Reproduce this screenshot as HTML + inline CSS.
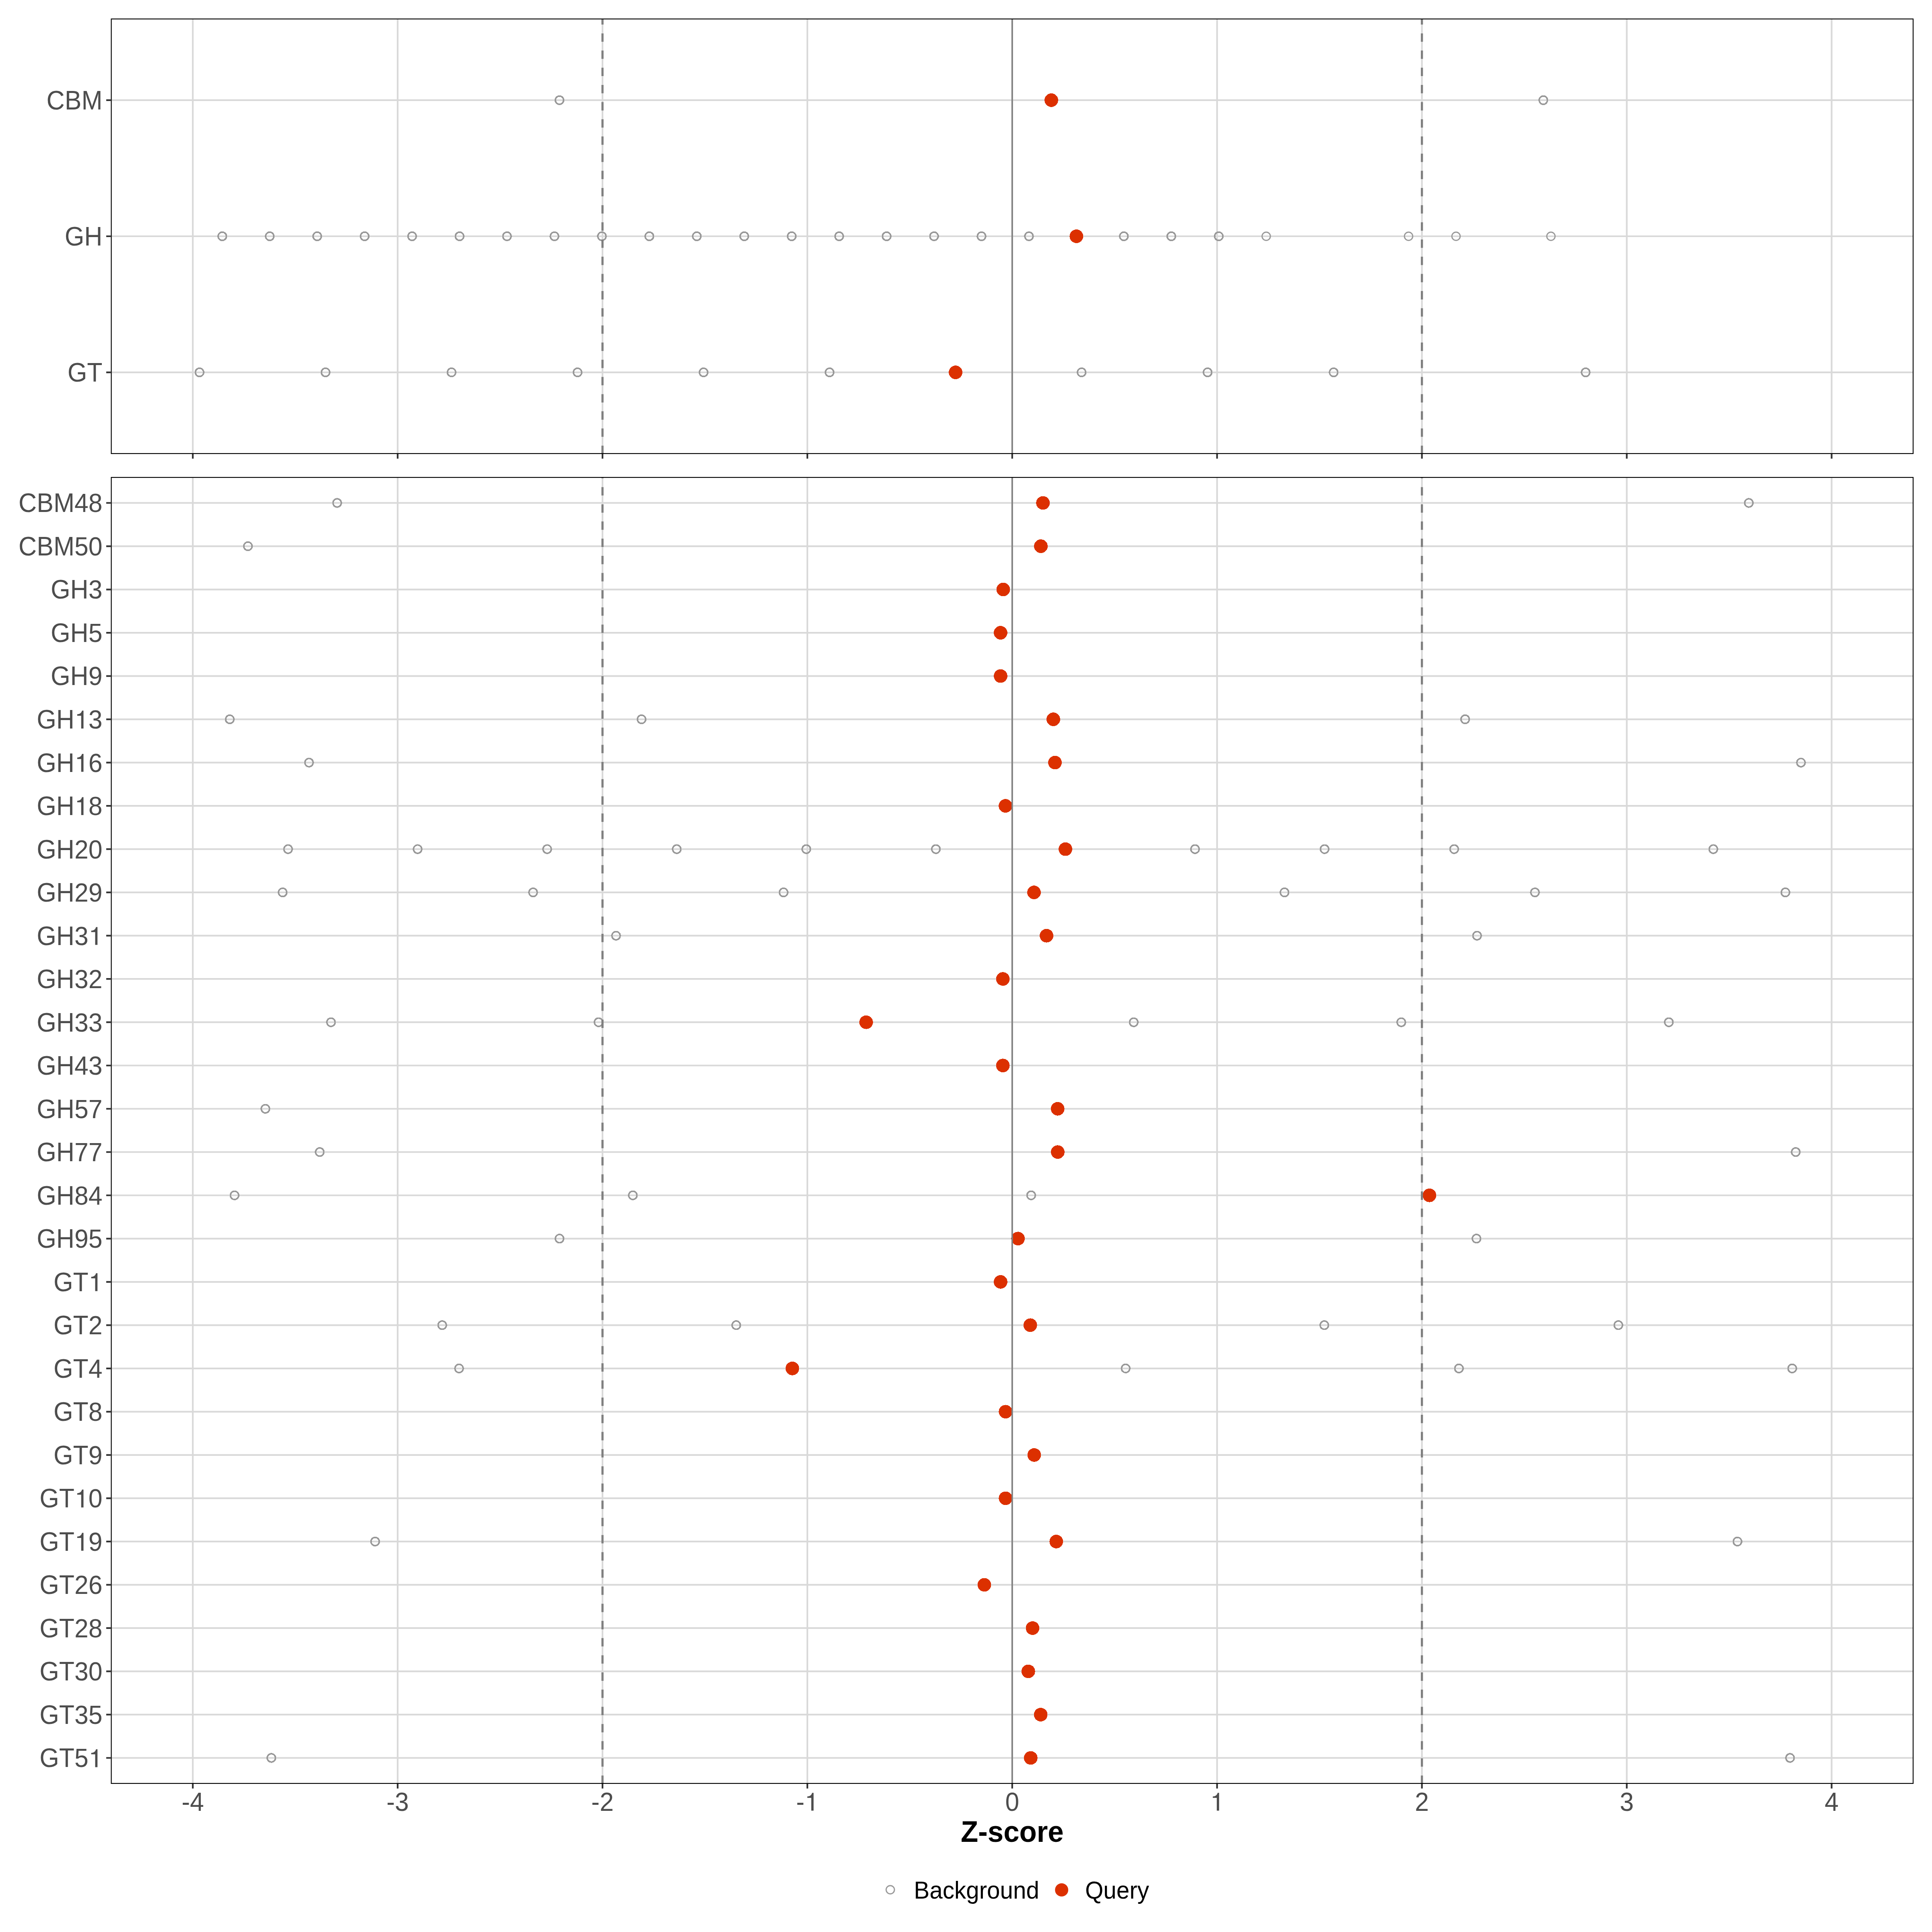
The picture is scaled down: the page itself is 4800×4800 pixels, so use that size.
<!DOCTYPE html><html><head><meta charset="utf-8"><style>html,body{margin:0;padding:0;background:#fff;}svg{display:block;}circle{shape-rendering:crispEdges;}text{font-family:"Liberation Sans",sans-serif;}</style></head><body>
<svg width="4800" height="4800" viewBox="0 0 4800 4800">
<rect x="0" y="0" width="4800" height="4800" fill="#FFFFFF"/>
<defs>
<clipPath id="cp1"><rect x="275.4" y="46" width="4478.8" height="1082"/></clipPath>
<clipPath id="cp2"><rect x="275.4" y="1185" width="4478.8" height="3247"/></clipPath>
</defs>
<g clip-path="url(#cp1)">
<path d="M275.4 248.87H4754.2M275.4 587H4754.2M275.4 925.12H4754.2M479 46V1128M987.95 46V1128M1496.9 46V1128M2005.85 46V1128M2514.8 46V1128M3023.75 46V1128M3532.7 46V1128M4041.65 46V1128M4550.6 46V1128" stroke="#D9D9D9" stroke-width="4.2" fill="none"/>
<circle cx="1390" cy="248.87" r="10.25" fill="none" stroke="#999999" stroke-width="3.8"/>
<circle cx="3834.3" cy="248.87" r="10.25" fill="none" stroke="#999999" stroke-width="3.8"/>
<circle cx="552.3" cy="587" r="10.25" fill="none" stroke="#999999" stroke-width="3.8"/>
<circle cx="670.19" cy="587" r="10.25" fill="none" stroke="#999999" stroke-width="3.8"/>
<circle cx="788.08" cy="587" r="10.25" fill="none" stroke="#999999" stroke-width="3.8"/>
<circle cx="905.97" cy="587" r="10.25" fill="none" stroke="#999999" stroke-width="3.8"/>
<circle cx="1023.86" cy="587" r="10.25" fill="none" stroke="#999999" stroke-width="3.8"/>
<circle cx="1141.75" cy="587" r="10.25" fill="none" stroke="#999999" stroke-width="3.8"/>
<circle cx="1259.64" cy="587" r="10.25" fill="none" stroke="#999999" stroke-width="3.8"/>
<circle cx="1377.53" cy="587" r="10.25" fill="none" stroke="#999999" stroke-width="3.8"/>
<circle cx="1495.42" cy="587" r="10.25" fill="none" stroke="#999999" stroke-width="3.8"/>
<circle cx="1613.31" cy="587" r="10.25" fill="none" stroke="#999999" stroke-width="3.8"/>
<circle cx="1731.2" cy="587" r="10.25" fill="none" stroke="#999999" stroke-width="3.8"/>
<circle cx="1849.09" cy="587" r="10.25" fill="none" stroke="#999999" stroke-width="3.8"/>
<circle cx="1966.98" cy="587" r="10.25" fill="none" stroke="#999999" stroke-width="3.8"/>
<circle cx="2084.87" cy="587" r="10.25" fill="none" stroke="#999999" stroke-width="3.8"/>
<circle cx="2202.76" cy="587" r="10.25" fill="none" stroke="#999999" stroke-width="3.8"/>
<circle cx="2320.65" cy="587" r="10.25" fill="none" stroke="#999999" stroke-width="3.8"/>
<circle cx="2438.54" cy="587" r="10.25" fill="none" stroke="#999999" stroke-width="3.8"/>
<circle cx="2556.43" cy="587" r="10.25" fill="none" stroke="#999999" stroke-width="3.8"/>
<circle cx="2792.21" cy="587" r="10.25" fill="none" stroke="#999999" stroke-width="3.8"/>
<circle cx="2910.1" cy="587" r="10.25" fill="none" stroke="#999999" stroke-width="3.8"/>
<circle cx="3027.99" cy="587" r="10.25" fill="none" stroke="#999999" stroke-width="3.8"/>
<circle style="shape-rendering:auto" cx="3145.88" cy="587" r="10.3" fill="none" stroke="#999999" stroke-width="2.95"/>
<circle style="shape-rendering:auto" cx="3499.55" cy="587" r="10.3" fill="none" stroke="#999999" stroke-width="2.95"/>
<circle style="shape-rendering:auto" cx="3617.44" cy="587" r="10.3" fill="none" stroke="#999999" stroke-width="2.95"/>
<circle style="shape-rendering:auto" cx="3853.22" cy="587" r="10.3" fill="none" stroke="#999999" stroke-width="2.95"/>
<circle cx="495.7" cy="925.12" r="10.25" fill="none" stroke="#999999" stroke-width="3.8"/>
<circle cx="808.77" cy="925.12" r="10.25" fill="none" stroke="#999999" stroke-width="3.8"/>
<circle cx="1121.84" cy="925.12" r="10.25" fill="none" stroke="#999999" stroke-width="3.8"/>
<circle cx="1434.91" cy="925.12" r="10.25" fill="none" stroke="#999999" stroke-width="3.8"/>
<circle cx="1747.98" cy="925.12" r="10.25" fill="none" stroke="#999999" stroke-width="3.8"/>
<circle cx="2061.05" cy="925.12" r="10.25" fill="none" stroke="#999999" stroke-width="3.8"/>
<circle cx="2687.19" cy="925.12" r="10.25" fill="none" stroke="#999999" stroke-width="3.8"/>
<circle cx="3000.26" cy="925.12" r="10.25" fill="none" stroke="#999999" stroke-width="3.8"/>
<circle cx="3313.33" cy="925.12" r="10.25" fill="none" stroke="#999999" stroke-width="3.8"/>
<circle cx="3939.47" cy="925.12" r="10.25" fill="none" stroke="#999999" stroke-width="3.8"/>
<circle cx="2612" cy="248.87" r="16.9" fill="#DC3000"/>
<circle cx="2674.32" cy="587" r="16.9" fill="#DC3000"/>
<circle cx="2374.12" cy="925.12" r="16.9" fill="#DC3000"/>
<path d="M1496.9 1128V46" stroke="#7F7F7F" stroke-width="5.33" stroke-dasharray="20.8 21.88" fill="none"/>
<path d="M3532.7 1128V46" stroke="#7F7F7F" stroke-width="5.33" stroke-dasharray="20.8 21.88" fill="none"/>
<path d="M2514.8 1128V46" stroke="#7F7F7F" stroke-width="3.7" fill="none"/>
<rect x="275.4" y="46" width="4478.8" height="1082" fill="none" stroke="#000" stroke-width="4.44"/>
</g>
<path d="M263.94 248.87H275.4M263.94 587H275.4M263.94 925.12H275.4M479 1128V1139.46M987.95 1128V1139.46M1496.9 1128V1139.46M2005.85 1128V1139.46M2514.8 1128V1139.46M3023.75 1128V1139.46M3532.7 1128V1139.46M4041.65 1128V1139.46M4550.6 1128V1139.46" stroke="#333333" stroke-width="4.2" fill="none"/>
<text transform="translate(115.62 271.77) scale(1 1.06)" font-size="62.5" fill="#4D4D4D">CBM</text>
<text transform="translate(160.75 609.9) scale(1 1.06)" font-size="62.5" fill="#4D4D4D">GH</text>
<text transform="translate(167.69 948.02) scale(1 1.06)" font-size="62.5" fill="#4D4D4D">GT</text>
<g clip-path="url(#cp2)">
<path d="M275.4 1249.51H4754.2M275.4 1357.03H4754.2M275.4 1464.54H4754.2M275.4 1572.06H4754.2M275.4 1679.58H4754.2M275.4 1787.09H4754.2M275.4 1894.61H4754.2M275.4 2002.13H4754.2M275.4 2109.64H4754.2M275.4 2217.16H4754.2M275.4 2324.68H4754.2M275.4 2432.19H4754.2M275.4 2539.71H4754.2M275.4 2647.23H4754.2M275.4 2754.74H4754.2M275.4 2862.26H4754.2M275.4 2969.77H4754.2M275.4 3077.29H4754.2M275.4 3184.81H4754.2M275.4 3292.32H4754.2M275.4 3399.84H4754.2M275.4 3507.36H4754.2M275.4 3614.87H4754.2M275.4 3722.39H4754.2M275.4 3829.91H4754.2M275.4 3937.42H4754.2M275.4 4044.94H4754.2M275.4 4152.46H4754.2M275.4 4259.97H4754.2M275.4 4367.49H4754.2M479 1185V4432M987.95 1185V4432M1496.9 1185V4432M2005.85 1185V4432M2514.8 1185V4432M3023.75 1185V4432M3532.7 1185V4432M4041.65 1185V4432M4550.6 1185V4432" stroke="#D9D9D9" stroke-width="4.2" fill="none"/>
<circle cx="837.6" cy="1249.51" r="10.25" fill="none" stroke="#999999" stroke-width="3.8"/>
<circle cx="4344.8" cy="1249.51" r="10.25" fill="none" stroke="#999999" stroke-width="3.8"/>
<circle cx="616" cy="1357.03" r="10.25" fill="none" stroke="#999999" stroke-width="3.8"/>
<circle cx="570.8" cy="1787.09" r="10.25" fill="none" stroke="#999999" stroke-width="3.8"/>
<circle cx="1593.9" cy="1787.09" r="10.25" fill="none" stroke="#999999" stroke-width="3.8"/>
<circle cx="3640.1" cy="1787.09" r="10.25" fill="none" stroke="#999999" stroke-width="3.8"/>
<circle cx="767.7" cy="1894.61" r="10.25" fill="none" stroke="#999999" stroke-width="3.8"/>
<circle cx="4474.5" cy="1894.61" r="10.25" fill="none" stroke="#999999" stroke-width="3.8"/>
<circle cx="715.64" cy="2109.64" r="10.25" fill="none" stroke="#999999" stroke-width="3.8"/>
<circle cx="1037.55" cy="2109.64" r="10.25" fill="none" stroke="#999999" stroke-width="3.8"/>
<circle cx="1359.46" cy="2109.64" r="10.25" fill="none" stroke="#999999" stroke-width="3.8"/>
<circle cx="1681.37" cy="2109.64" r="10.25" fill="none" stroke="#999999" stroke-width="3.8"/>
<circle cx="2003.28" cy="2109.64" r="10.25" fill="none" stroke="#999999" stroke-width="3.8"/>
<circle cx="2325.19" cy="2109.64" r="10.25" fill="none" stroke="#999999" stroke-width="3.8"/>
<circle cx="2969.01" cy="2109.64" r="10.25" fill="none" stroke="#999999" stroke-width="3.8"/>
<circle cx="3290.92" cy="2109.64" r="10.25" fill="none" stroke="#999999" stroke-width="3.8"/>
<circle cx="3612.83" cy="2109.64" r="10.25" fill="none" stroke="#999999" stroke-width="3.8"/>
<circle cx="4256.65" cy="2109.64" r="10.25" fill="none" stroke="#999999" stroke-width="3.8"/>
<circle cx="702.21" cy="2217.16" r="10.25" fill="none" stroke="#999999" stroke-width="3.8"/>
<circle cx="1324.47" cy="2217.16" r="10.25" fill="none" stroke="#999999" stroke-width="3.8"/>
<circle cx="1946.74" cy="2217.16" r="10.25" fill="none" stroke="#999999" stroke-width="3.8"/>
<circle cx="3191.26" cy="2217.16" r="10.25" fill="none" stroke="#999999" stroke-width="3.8"/>
<circle cx="3813.53" cy="2217.16" r="10.25" fill="none" stroke="#999999" stroke-width="3.8"/>
<circle cx="4435.79" cy="2217.16" r="10.25" fill="none" stroke="#999999" stroke-width="3.8"/>
<circle cx="1530.55" cy="2324.68" r="10.25" fill="none" stroke="#999999" stroke-width="3.8"/>
<circle cx="3669.65" cy="2324.68" r="10.25" fill="none" stroke="#999999" stroke-width="3.8"/>
<circle cx="822.37" cy="2539.71" r="10.25" fill="none" stroke="#999999" stroke-width="3.8"/>
<circle cx="1487.14" cy="2539.71" r="10.25" fill="none" stroke="#999999" stroke-width="3.8"/>
<circle cx="2816.66" cy="2539.71" r="10.25" fill="none" stroke="#999999" stroke-width="3.8"/>
<circle cx="3481.43" cy="2539.71" r="10.25" fill="none" stroke="#999999" stroke-width="3.8"/>
<circle cx="4146.19" cy="2539.71" r="10.25" fill="none" stroke="#999999" stroke-width="3.8"/>
<circle cx="659.4" cy="2754.74" r="10.25" fill="none" stroke="#999999" stroke-width="3.8"/>
<circle cx="794.35" cy="2862.26" r="10.25" fill="none" stroke="#999999" stroke-width="3.8"/>
<circle cx="4461.45" cy="2862.26" r="10.25" fill="none" stroke="#999999" stroke-width="3.8"/>
<circle cx="582.71" cy="2969.77" r="10.25" fill="none" stroke="#999999" stroke-width="3.8"/>
<circle cx="1572.29" cy="2969.77" r="10.25" fill="none" stroke="#999999" stroke-width="3.8"/>
<circle cx="2561.87" cy="2969.77" r="10.25" fill="none" stroke="#999999" stroke-width="3.8"/>
<circle cx="1390.1" cy="3077.29" r="10.25" fill="none" stroke="#999999" stroke-width="3.8"/>
<circle cx="3668.3" cy="3077.29" r="10.25" fill="none" stroke="#999999" stroke-width="3.8"/>
<circle cx="1098.66" cy="3292.32" r="10.25" fill="none" stroke="#999999" stroke-width="3.8"/>
<circle cx="1829.18" cy="3292.32" r="10.25" fill="none" stroke="#999999" stroke-width="3.8"/>
<circle cx="3290.22" cy="3292.32" r="10.25" fill="none" stroke="#999999" stroke-width="3.8"/>
<circle cx="4020.74" cy="3292.32" r="10.25" fill="none" stroke="#999999" stroke-width="3.8"/>
<circle cx="1140.57" cy="3399.84" r="10.25" fill="none" stroke="#999999" stroke-width="3.8"/>
<circle cx="2796.63" cy="3399.84" r="10.25" fill="none" stroke="#999999" stroke-width="3.8"/>
<circle cx="3624.67" cy="3399.84" r="10.25" fill="none" stroke="#999999" stroke-width="3.8"/>
<circle cx="4452.7" cy="3399.84" r="10.25" fill="none" stroke="#999999" stroke-width="3.8"/>
<circle cx="931.95" cy="3829.91" r="10.25" fill="none" stroke="#999999" stroke-width="3.8"/>
<circle cx="4316.65" cy="3829.91" r="10.25" fill="none" stroke="#999999" stroke-width="3.8"/>
<circle cx="674.25" cy="4367.49" r="10.25" fill="none" stroke="#999999" stroke-width="3.8"/>
<circle cx="4447.35" cy="4367.49" r="10.25" fill="none" stroke="#999999" stroke-width="3.8"/>
<circle cx="2591.2" cy="1249.51" r="16.9" fill="#DC3000"/>
<circle cx="2586" cy="1357.03" r="16.9" fill="#DC3000"/>
<circle cx="2492.5" cy="1464.54" r="16.9" fill="#DC3000"/>
<circle cx="2485.9" cy="1572.06" r="16.9" fill="#DC3000"/>
<circle cx="2485.9" cy="1679.58" r="16.9" fill="#DC3000"/>
<circle cx="2617" cy="1787.09" r="16.9" fill="#DC3000"/>
<circle cx="2621.1" cy="1894.61" r="16.9" fill="#DC3000"/>
<circle cx="2498.1" cy="2002.13" r="16.9" fill="#DC3000"/>
<circle cx="2647.1" cy="2109.64" r="16.9" fill="#DC3000"/>
<circle cx="2569" cy="2217.16" r="16.9" fill="#DC3000"/>
<circle cx="2600.1" cy="2324.68" r="16.9" fill="#DC3000"/>
<circle cx="2491.65" cy="2432.19" r="16.9" fill="#DC3000"/>
<circle cx="2151.9" cy="2539.71" r="16.9" fill="#DC3000"/>
<circle cx="2491.65" cy="2647.23" r="16.9" fill="#DC3000"/>
<circle cx="2627.7" cy="2754.74" r="16.9" fill="#DC3000"/>
<circle cx="2627.9" cy="2862.26" r="16.9" fill="#DC3000"/>
<circle cx="3551.45" cy="2969.77" r="16.9" fill="#DC3000"/>
<circle cx="2529.2" cy="3077.29" r="16.9" fill="#DC3000"/>
<circle cx="2485.9" cy="3184.81" r="16.9" fill="#DC3000"/>
<circle cx="2559.7" cy="3292.32" r="16.9" fill="#DC3000"/>
<circle cx="1968.6" cy="3399.84" r="16.9" fill="#DC3000"/>
<circle cx="2498.3" cy="3507.36" r="16.9" fill="#DC3000"/>
<circle cx="2569.5" cy="3614.87" r="16.9" fill="#DC3000"/>
<circle cx="2498.3" cy="3722.39" r="16.9" fill="#DC3000"/>
<circle cx="2624.3" cy="3829.91" r="16.9" fill="#DC3000"/>
<circle cx="2445.6" cy="3937.42" r="16.9" fill="#DC3000"/>
<circle cx="2565.4" cy="4044.94" r="16.9" fill="#DC3000"/>
<circle cx="2554.8" cy="4152.46" r="16.9" fill="#DC3000"/>
<circle cx="2585.6" cy="4259.97" r="16.9" fill="#DC3000"/>
<circle cx="2560.8" cy="4367.49" r="16.9" fill="#DC3000"/>
<path d="M1496.9 4432V1185" stroke="#7F7F7F" stroke-width="5.33" stroke-dasharray="20.8 21.88" fill="none"/>
<path d="M3532.7 4432V1185" stroke="#7F7F7F" stroke-width="5.33" stroke-dasharray="20.8 21.88" fill="none"/>
<path d="M2514.8 4432V1185" stroke="#7F7F7F" stroke-width="3.7" fill="none"/>
<rect x="275.4" y="1185" width="4478.8" height="3247" fill="none" stroke="#000" stroke-width="4.44"/>
</g>
<path d="M263.94 1249.51H275.4M263.94 1357.03H275.4M263.94 1464.54H275.4M263.94 1572.06H275.4M263.94 1679.58H275.4M263.94 1787.09H275.4M263.94 1894.61H275.4M263.94 2002.13H275.4M263.94 2109.64H275.4M263.94 2217.16H275.4M263.94 2324.68H275.4M263.94 2432.19H275.4M263.94 2539.71H275.4M263.94 2647.23H275.4M263.94 2754.74H275.4M263.94 2862.26H275.4M263.94 2969.77H275.4M263.94 3077.29H275.4M263.94 3184.81H275.4M263.94 3292.32H275.4M263.94 3399.84H275.4M263.94 3507.36H275.4M263.94 3614.87H275.4M263.94 3722.39H275.4M263.94 3829.91H275.4M263.94 3937.42H275.4M263.94 4044.94H275.4M263.94 4152.46H275.4M263.94 4259.97H275.4M263.94 4367.49H275.4M479 4432V4443.46M987.95 4432V4443.46M1496.9 4432V4443.46M2005.85 4432V4443.46M2514.8 4432V4443.46M3023.75 4432V4443.46M3532.7 4432V4443.46M4041.65 4432V4443.46M4550.6 4432V4443.46" stroke="#333333" stroke-width="4.2" fill="none"/>
<text transform="translate(46.12 1272.41) scale(1 1.06)" font-size="62.5" fill="#4D4D4D">CBM</text>
<text transform="translate(185 1272.41) scale(1 1.043)" font-size="62.5" fill="#4D4D4D">48</text>
<text transform="translate(46.12 1379.93) scale(1 1.06)" font-size="62.5" fill="#4D4D4D">CBM</text>
<text transform="translate(185 1379.93) scale(1 1.043)" font-size="62.5" fill="#4D4D4D">50</text>
<text transform="translate(126 1487.44) scale(1 1.06)" font-size="62.5" fill="#4D4D4D">GH</text>
<text transform="translate(219.75 1487.44) scale(1 1.043)" font-size="62.5" fill="#4D4D4D">3</text>
<text transform="translate(126 1594.96) scale(1 1.06)" font-size="62.5" fill="#4D4D4D">GH</text>
<text transform="translate(219.75 1594.96) scale(1 1.043)" font-size="62.5" fill="#4D4D4D">5</text>
<text transform="translate(126 1702.48) scale(1 1.06)" font-size="62.5" fill="#4D4D4D">GH</text>
<text transform="translate(219.75 1702.48) scale(1 1.043)" font-size="62.5" fill="#4D4D4D">9</text>
<text transform="translate(91.25 1809.99) scale(1 1.06)" font-size="62.5" fill="#4D4D4D">GH</text>
<path transform="translate(185 1809.99) scale(0.06250 -0.06250)" d="M359 0L267 0L267 509L109 509L109 566C200 572 268 600 302 711L359 711Z" fill="#4D4D4D"/>
<text transform="translate(219.75 1809.99) scale(1 1.043)" font-size="62.5" fill="#4D4D4D">3</text>
<text transform="translate(91.25 1917.51) scale(1 1.06)" font-size="62.5" fill="#4D4D4D">GH</text>
<path transform="translate(185 1917.51) scale(0.06250 -0.06250)" d="M359 0L267 0L267 509L109 509L109 566C200 572 268 600 302 711L359 711Z" fill="#4D4D4D"/>
<text transform="translate(219.75 1917.51) scale(1 1.043)" font-size="62.5" fill="#4D4D4D">6</text>
<text transform="translate(91.25 2025.03) scale(1 1.06)" font-size="62.5" fill="#4D4D4D">GH</text>
<path transform="translate(185 2025.03) scale(0.06250 -0.06250)" d="M359 0L267 0L267 509L109 509L109 566C200 572 268 600 302 711L359 711Z" fill="#4D4D4D"/>
<text transform="translate(219.75 2025.03) scale(1 1.043)" font-size="62.5" fill="#4D4D4D">8</text>
<text transform="translate(91.25 2132.54) scale(1 1.06)" font-size="62.5" fill="#4D4D4D">GH</text>
<text transform="translate(185 2132.54) scale(1 1.043)" font-size="62.5" fill="#4D4D4D">20</text>
<text transform="translate(91.25 2240.06) scale(1 1.06)" font-size="62.5" fill="#4D4D4D">GH</text>
<text transform="translate(185 2240.06) scale(1 1.043)" font-size="62.5" fill="#4D4D4D">29</text>
<text transform="translate(91.25 2347.58) scale(1 1.06)" font-size="62.5" fill="#4D4D4D">GH</text>
<text transform="translate(185 2347.58) scale(1 1.043)" font-size="62.5" fill="#4D4D4D">3</text>
<path transform="translate(219.75 2347.58) scale(0.06250 -0.06250)" d="M359 0L267 0L267 509L109 509L109 566C200 572 268 600 302 711L359 711Z" fill="#4D4D4D"/>
<text transform="translate(91.25 2455.09) scale(1 1.06)" font-size="62.5" fill="#4D4D4D">GH</text>
<text transform="translate(185 2455.09) scale(1 1.043)" font-size="62.5" fill="#4D4D4D">32</text>
<text transform="translate(91.25 2562.61) scale(1 1.06)" font-size="62.5" fill="#4D4D4D">GH</text>
<text transform="translate(185 2562.61) scale(1 1.043)" font-size="62.5" fill="#4D4D4D">33</text>
<text transform="translate(91.25 2670.13) scale(1 1.06)" font-size="62.5" fill="#4D4D4D">GH</text>
<text transform="translate(185 2670.13) scale(1 1.043)" font-size="62.5" fill="#4D4D4D">43</text>
<text transform="translate(91.25 2777.64) scale(1 1.06)" font-size="62.5" fill="#4D4D4D">GH</text>
<text transform="translate(185 2777.64) scale(1 1.043)" font-size="62.5" fill="#4D4D4D">57</text>
<text transform="translate(91.25 2885.16) scale(1 1.06)" font-size="62.5" fill="#4D4D4D">GH</text>
<text transform="translate(185 2885.16) scale(1 1.043)" font-size="62.5" fill="#4D4D4D">77</text>
<text transform="translate(91.25 2992.67) scale(1 1.06)" font-size="62.5" fill="#4D4D4D">GH</text>
<text transform="translate(185 2992.67) scale(1 1.043)" font-size="62.5" fill="#4D4D4D">84</text>
<text transform="translate(91.25 3100.19) scale(1 1.06)" font-size="62.5" fill="#4D4D4D">GH</text>
<text transform="translate(185 3100.19) scale(1 1.043)" font-size="62.5" fill="#4D4D4D">95</text>
<text transform="translate(132.94 3207.71) scale(1 1.06)" font-size="62.5" fill="#4D4D4D">GT</text>
<path transform="translate(219.75 3207.71) scale(0.06250 -0.06250)" d="M359 0L267 0L267 509L109 509L109 566C200 572 268 600 302 711L359 711Z" fill="#4D4D4D"/>
<text transform="translate(132.94 3315.22) scale(1 1.06)" font-size="62.5" fill="#4D4D4D">GT</text>
<text transform="translate(219.75 3315.22) scale(1 1.043)" font-size="62.5" fill="#4D4D4D">2</text>
<text transform="translate(132.94 3422.74) scale(1 1.06)" font-size="62.5" fill="#4D4D4D">GT</text>
<text transform="translate(219.75 3422.74) scale(1 1.043)" font-size="62.5" fill="#4D4D4D">4</text>
<text transform="translate(132.94 3530.26) scale(1 1.06)" font-size="62.5" fill="#4D4D4D">GT</text>
<text transform="translate(219.75 3530.26) scale(1 1.043)" font-size="62.5" fill="#4D4D4D">8</text>
<text transform="translate(132.94 3637.77) scale(1 1.06)" font-size="62.5" fill="#4D4D4D">GT</text>
<text transform="translate(219.75 3637.77) scale(1 1.043)" font-size="62.5" fill="#4D4D4D">9</text>
<text transform="translate(98.19 3745.29) scale(1 1.06)" font-size="62.5" fill="#4D4D4D">GT</text>
<path transform="translate(185 3745.29) scale(0.06250 -0.06250)" d="M359 0L267 0L267 509L109 509L109 566C200 572 268 600 302 711L359 711Z" fill="#4D4D4D"/>
<text transform="translate(219.75 3745.29) scale(1 1.043)" font-size="62.5" fill="#4D4D4D">0</text>
<text transform="translate(98.19 3852.81) scale(1 1.06)" font-size="62.5" fill="#4D4D4D">GT</text>
<path transform="translate(185 3852.81) scale(0.06250 -0.06250)" d="M359 0L267 0L267 509L109 509L109 566C200 572 268 600 302 711L359 711Z" fill="#4D4D4D"/>
<text transform="translate(219.75 3852.81) scale(1 1.043)" font-size="62.5" fill="#4D4D4D">9</text>
<text transform="translate(98.19 3960.32) scale(1 1.06)" font-size="62.5" fill="#4D4D4D">GT</text>
<text transform="translate(185 3960.32) scale(1 1.043)" font-size="62.5" fill="#4D4D4D">26</text>
<text transform="translate(98.19 4067.84) scale(1 1.06)" font-size="62.5" fill="#4D4D4D">GT</text>
<text transform="translate(185 4067.84) scale(1 1.043)" font-size="62.5" fill="#4D4D4D">28</text>
<text transform="translate(98.19 4175.36) scale(1 1.06)" font-size="62.5" fill="#4D4D4D">GT</text>
<text transform="translate(185 4175.36) scale(1 1.043)" font-size="62.5" fill="#4D4D4D">30</text>
<text transform="translate(98.19 4282.87) scale(1 1.06)" font-size="62.5" fill="#4D4D4D">GT</text>
<text transform="translate(185 4282.87) scale(1 1.043)" font-size="62.5" fill="#4D4D4D">35</text>
<text transform="translate(98.19 4390.39) scale(1 1.06)" font-size="62.5" fill="#4D4D4D">GT</text>
<text transform="translate(185 4390.39) scale(1 1.043)" font-size="62.5" fill="#4D4D4D">5</text>
<path transform="translate(219.75 4390.39) scale(0.06250 -0.06250)" d="M359 0L267 0L267 509L109 509L109 566C200 572 268 600 302 711L359 711Z" fill="#4D4D4D"/>
<text transform="translate(451.22 4498.6) scale(1 1.043)" font-size="62.5" fill="#4D4D4D">-4</text>
<text transform="translate(960.17 4498.6) scale(1 1.043)" font-size="62.5" fill="#4D4D4D">-3</text>
<text transform="translate(1469.12 4498.6) scale(1 1.043)" font-size="62.5" fill="#4D4D4D">-2</text>
<text transform="translate(1978.07 4498.6) scale(1 1.043)" font-size="62.5" fill="#4D4D4D">-</text>
<path transform="translate(1998.88 4498.6) scale(0.06250 -0.06250)" d="M359 0L267 0L267 509L109 509L109 566C200 572 268 600 302 711L359 711Z" fill="#4D4D4D"/>
<text transform="translate(2497.43 4498.6) scale(1 1.043)" font-size="62.5" fill="#4D4D4D">0</text>
<path transform="translate(3006.38 4498.6) scale(0.06250 -0.06250)" d="M359 0L267 0L267 509L109 509L109 566C200 572 268 600 302 711L359 711Z" fill="#4D4D4D"/>
<text transform="translate(3515.33 4498.6) scale(1 1.043)" font-size="62.5" fill="#4D4D4D">2</text>
<text transform="translate(4024.28 4498.6) scale(1 1.043)" font-size="62.5" fill="#4D4D4D">3</text>
<text transform="translate(4533.23 4498.6) scale(1 1.043)" font-size="62.5" fill="#4D4D4D">4</text>
<text transform="translate(2514.8 4576) scale(1 1.06)" text-anchor="middle" font-size="70.8" font-weight="bold" fill="#000">Z-score</text>
<circle style="shape-rendering:auto" cx="2211.9" cy="4695.0" r="10.3" fill="none" stroke="#999999" stroke-width="2.95"/>
<circle style="shape-rendering:auto" cx="2637.6" cy="4695.4" r="16.4" fill="#DC3000"/>
<text transform="translate(2270.6 4716.6) scale(1 1.06)" font-size="58.33" fill="#000">Background</text>
<text transform="translate(2696.0 4716.6) scale(1 1.06)" font-size="58.33" fill="#000">Query</text>
</svg></body></html>
